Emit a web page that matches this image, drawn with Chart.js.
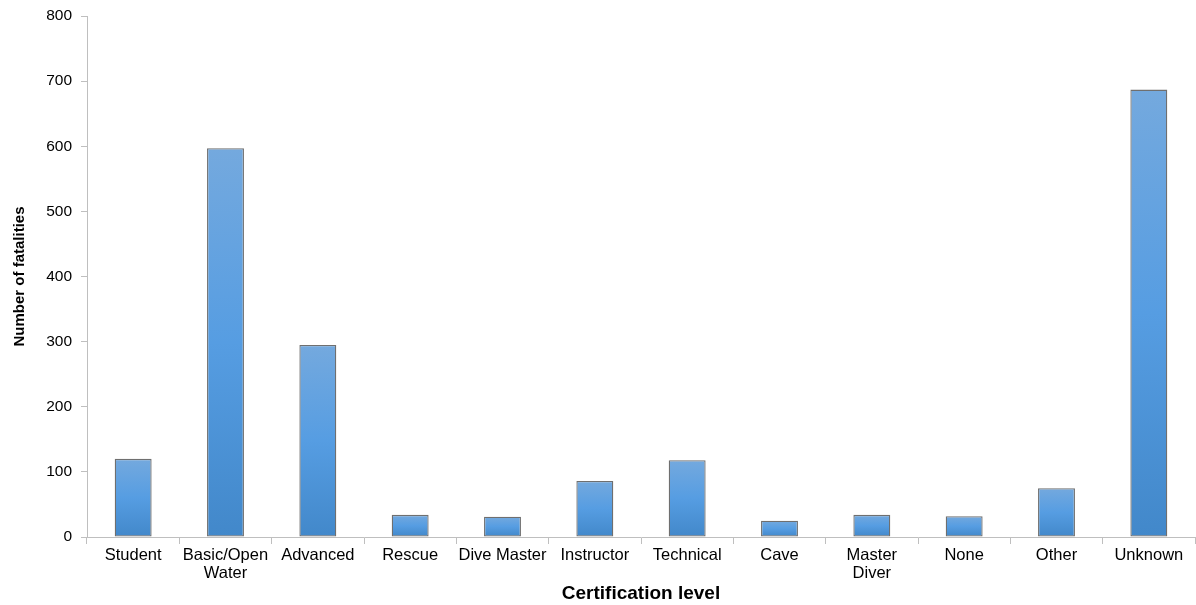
<!DOCTYPE html>
<html>
<head>
<meta charset="utf-8">
<script src="https://cdn.jsdelivr.net/npm/chart.js@4"></script>
<style>
  html, body { margin: 0; padding: 0; background: #fff; }
  #wrap { width: 1196px; height: 605px; }
</style>
</head>
<body>
<div id="wrap"><canvas id="fatalChart"></canvas></div>
<script>
const categories = ['Student', ['Basic/Open', 'Water'], 'Advanced', 'Rescue', 'Dive Master', 'Instructor',
  'Technical', 'Cave', ['Master', 'Diver'], 'None', 'Other', 'Unknown'];
const fatalities = [120, 597, 295, 34, 31, 86, 118, 25, 34, 32, 75, 687];
const yTicks = [0, 100, 200, 300, 400, 500, 600, 700, 800];

// gradient per bar, lighter at top, darker at bottom
const barGradient = {
    id: 'barGradient',
    beforeDatasetsDraw(chart) {
        const ctx = chart.ctx;
        chart.getDatasetMeta(0).data.forEach(bar => {
            const g = ctx.createLinearGradient(0, bar.y, 0, bar.base);
            g.addColorStop(0, '#74a9de');
            g.addColorStop(0.5, '#569de2');
            g.addColorStop(1, '#4288ca');
            bar.options.backgroundColor = g;
        });
    }
};

const axisColor = '#bfbfbf';
const family = 'Liberation Sans, Arial, sans-serif';

new Chart(document.getElementById('fatalChart'), {
    type: 'bar',
    data: {
        labels: categories,
        datasets: [{
            data: fatalities,
            // scriptable so every bar gets its own options object
            backgroundColor: (c) => '#569de2',
            borderColor: '#6f6f6f',
            borderWidth: 1.3,
            borderSkipped: false,
            categoryPercentage: 1,
            barPercentage: 0.4
        }]
    },
    options: {
        responsive: true,
        maintainAspectRatio: false,
        animation: false,
        layout: { padding: { top: 16, right: 1, left: 0, bottom: 0 } },
        plugins: {
            legend: { display: false },
            tooltip: { enabled: false }
        },
        scales: {
            x: {
                grid: { display: true, drawOnChartArea: false, tickLength: 7, color: axisColor, offset: true },
                border: { color: axisColor },
                ticks: { color: '#000', font: { family: family, size: 16.5, lineHeight: 1.1 }, maxRotation: 0, autoSkip: false, padding: 2 },
                title: {
                    display: true, text: 'Certification level', color: '#000',
                    font: { family: family, size: 19, weight: 'bold' },
                    padding: { top: 0, bottom: 0 }
                },
                afterFit(scale) { scale.height = 68; }
            },
            y: {
                min: 0, max: 800,
                afterBuildTicks(scale) { scale.ticks = yTicks.map(v => ({ value: v })); },
                grid: { display: true, drawOnChartArea: false, tickLength: 6, color: axisColor },
                border: { color: axisColor },
                ticks: { color: '#000', font: { family: family, size: 15.5 }, padding: 9 },
                title: {
                    display: true, text: 'Number of fatalities', color: '#000',
                    font: { family: family, size: 15, weight: 'bold' },
                    padding: { top: 11, bottom: 0 }
                },
                afterFit(scale) {
                    scale.width = 87;
                    scale.paddingTop = 0;
                    scale.paddingBottom = 0;
                }
            }
        }
    },
    plugins: [barGradient]
});
</script>
</body>
</html>
